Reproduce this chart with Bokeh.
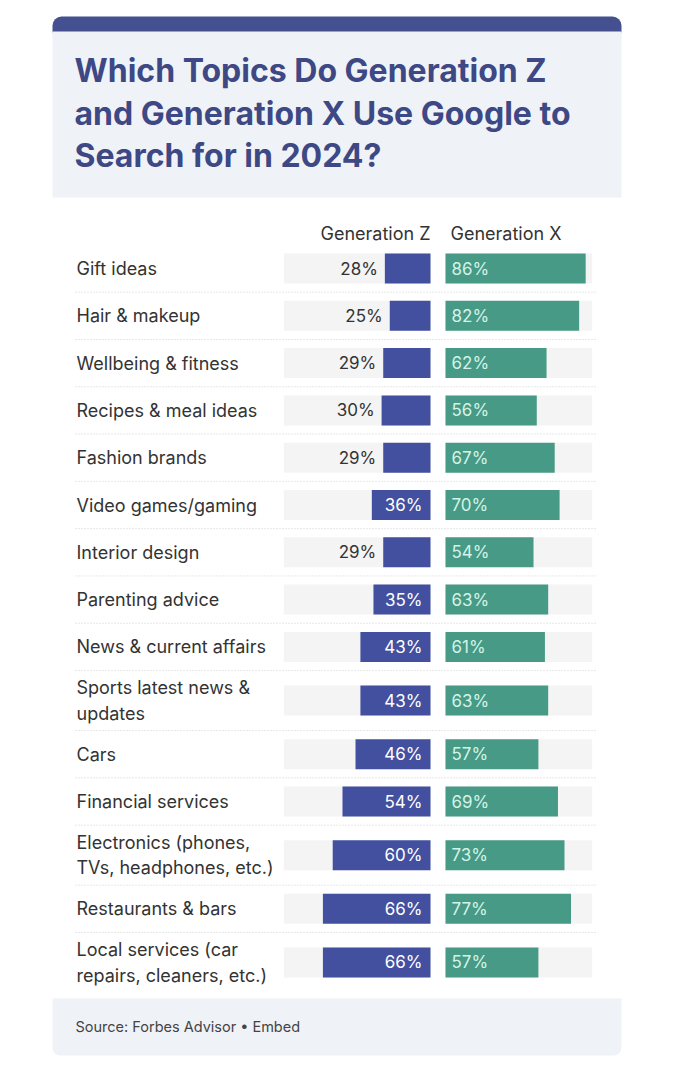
from bokeh.plotting import figure
from bokeh.models import Range1d
from bokeh.core.properties import value
from bokeh.embed import file_html
from bokeh.resources import INLINE

# ---------------- data ----------------
TITLE_LINES = ["Which Topics Do Generation Z",
               "and Generation X Use Google to",
               "Search for in 2024?"]
SERIES = ["Generation Z", "Generation X"]
CATEGORIES = [
    "Gift ideas",
    "Hair & makeup",
    "Wellbeing & fitness",
    "Recipes & meal ideas",
    "Fashion brands",
    "Video games/gaming",
    "Interior design",
    "Parenting advice",
    "News & current affairs",
    "Sports latest news &\nupdates",
    "Cars",
    "Financial services",
    "Electronics (phones,\nTVs, headphones, etc.)",
    "Restaurants & bars",
    "Local services (car\nrepairs, cleaners, etc.)",
]
GEN_Z = [28, 25, 29, 30, 29, 36, 29, 35, 43, 43, 46, 54, 60, 66, 66]
GEN_X = [86, 82, 62, 56, 67, 70, 54, 63, 61, 63, 57, 69, 73, 77, 57]
BG_MAX = 90
SOURCE = "Source: Forbes Advisor \u2022 Embed"

# ---------------- layout ----------------
W, H = 660, 1060
FONT = value("Inter")
PX = 1.63          # pixels per percentage point
Z0 = 430           # x of Gen Z baseline (px)
X0 = 445           # x of Gen X baseline (px)

p = figure(width=W, height=H, output_backend="svg", toolbar_location=None,
           x_range=Range1d(0, W), y_range=Range1d(H, 0),
           x_axis_location=None, y_axis_location=None,
           min_border=0, outline_line_color=None,
           background_fill_color="white", border_fill_color="white")
p.grid.visible = False
p.extra_x_ranges = {
    "genz": Range1d(Z0 / PX, -(W - Z0) / PX),
    "genx": Range1d(-X0 / PX, (W - X0) / PX),
}

# card decorations
p.quad(left=[52], right=[621], top=[16], bottom=[40], fill_color="#44508f",
       line_color=None, border_radius=9)
p.quad(left=[52], right=[621], top=[31], bottom=[197], fill_color="#eff2f7",
       line_color=None)
p.quad(left=[52], right=[621], top=[998], bottom=[1055], fill_color="#eff2f7",
       line_color=None, border_radius=(0, 0, 8, 8))

# title
p.text(x=[74] * len(TITLE_LINES), y=[70 + 42.5 * i for i in range(len(TITLE_LINES))],
       text=TITLE_LINES, text_font=FONT, text_font_style="bold",
       text_font_size="32px", text_color="#3d4884", text_baseline="middle")

# headers
p.text(x=[0], y=[233], text=[SERIES[0]], x_range_name="genz", x_offset=0,
       text_font=FONT, text_font_size="18px", text_color="#333333",
       text_align="right", text_baseline="middle")
p.text(x=[0], y=[233], text=[SERIES[1]], x_range_name="genx", x_offset=5,
       text_font=FONT, text_font_size="18px", text_color="#333333",
       text_align="left", text_baseline="middle")

# row positions
heights = [60 if "\n" in c else 47.3 for c in CATEGORIES]
ys = []
y = 268
for i, h in enumerate(heights):
    if i > 0:
        y += (heights[i - 1] + h) / 2
    ys.append(y)
seps = [ys[i] + heights[i] / 2 for i in range(len(ys) - 1)]

# separators
p.segment(x0=[75] * len(seps), x1=[597] * len(seps), y0=seps, y1=seps,
          line_color="#cfcfcf", line_width=1, line_dash="1 2")

n = len(CATEGORIES)
BH = 30
# background bars
p.hbar(y=ys, left=0, right=[BG_MAX] * n, height=BH, x_range_name="genz",
       fill_color="#f4f4f4", line_color=None)
p.hbar(y=ys, left=0, right=[BG_MAX] * n, height=BH, x_range_name="genx",
       fill_color="#f4f4f4", line_color=None)
# value bars
p.hbar(y=ys, left=0, right=GEN_Z, height=BH, x_range_name="genz",
       fill_color="#4350a0", line_color=None)
p.hbar(y=ys, left=0, right=GEN_X, height=BH, x_range_name="genx",
       fill_color="#479a85", line_color=None)

# category labels
p.text(x=[76] * n, y=ys, text=CATEGORIES, text_font=FONT, text_font_size="18px",
       text_color="#333333", text_baseline="middle", text_line_height=1.2)

# Gen Z labels
inside = [v >= 33 for v in GEN_Z]
zi_y = [ys[i] for i in range(n) if inside[i]]
zi_t = [f"{GEN_Z[i]}%" for i in range(n) if inside[i]]
zo_y = [ys[i] for i in range(n) if not inside[i]]
zo_x = [GEN_Z[i] for i in range(n) if not inside[i]]
zo_t = [f"{GEN_Z[i]}%" for i in range(n) if not inside[i]]
p.text(x=[0] * len(zi_y), y=zi_y, text=zi_t, x_range_name="genz", x_offset=-8,
       text_font=FONT, text_font_size="17px", text_color="white",
       text_align="right", text_baseline="middle")
p.text(x=zo_x, y=zo_y, text=zo_t, x_range_name="genz", x_offset=-7,
       text_font=FONT, text_font_size="17px", text_color="#333333",
       text_align="right", text_baseline="middle")
# Gen X labels
p.text(x=[0] * n, y=ys, text=[f"{v}%" for v in GEN_X], x_range_name="genx",
       x_offset=6, text_font=FONT, text_font_size="17px", text_color="#d4f3e8",
       text_align="left", text_baseline="middle")

# footer
p.text(x=[75], y=[1026], text=[SOURCE], text_font=FONT, text_font_size="14.5px",
       text_color="#444444", text_baseline="middle")

open("out.html", "w").write(file_html(p, INLINE))
